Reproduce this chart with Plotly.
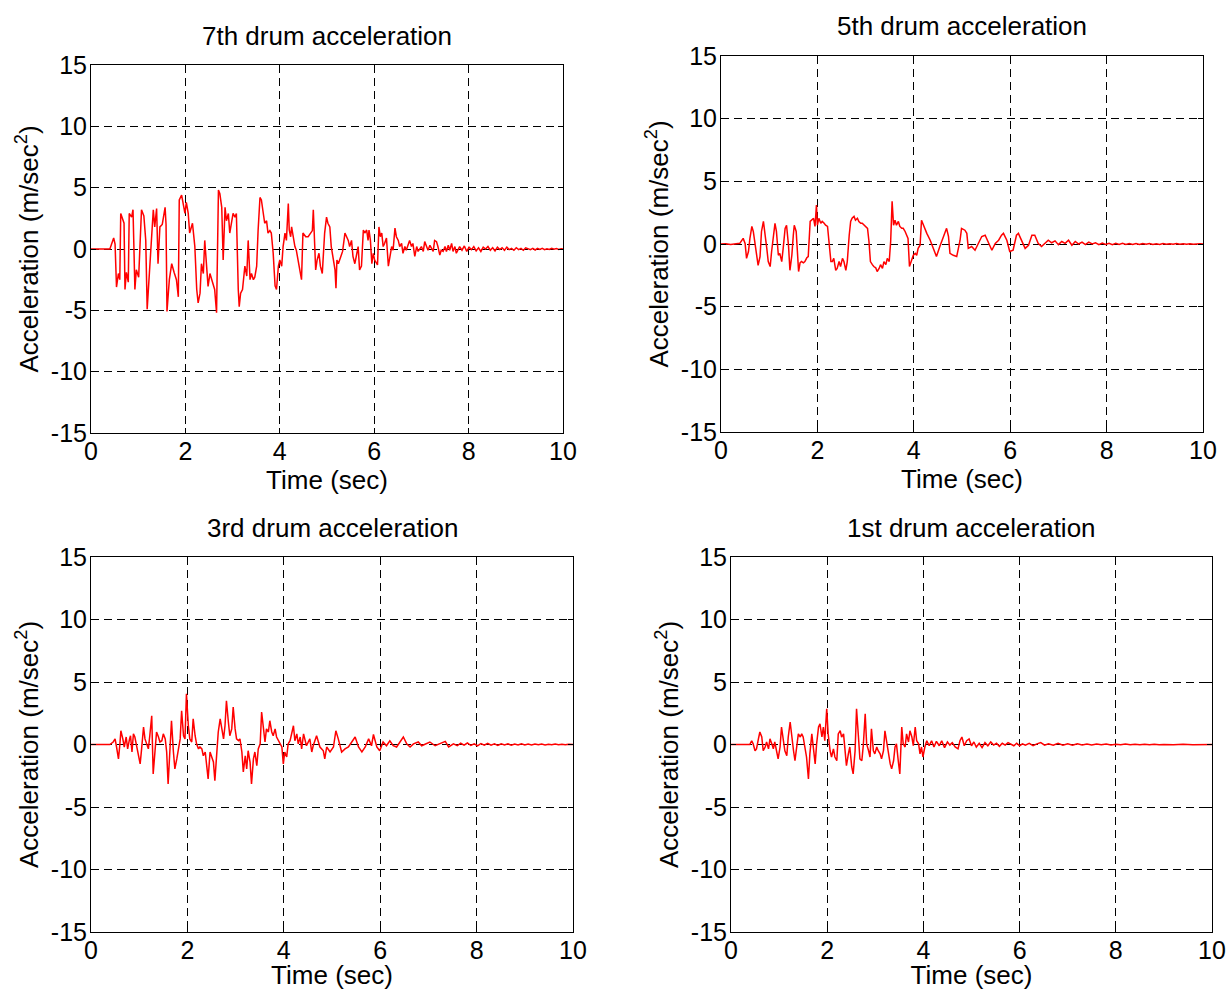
import plotly.graph_objects as go

# (time, acceleration) samples
DRUM7 = [
    (0.0, 0.0), (0.1, 0.02), (0.2, -0.02), (0.3, 0.01), (0.40, 0.0), (0.48, 0.9), (0.51, 0.4),
    (0.54, -3.1), (0.58, -2.0), (0.61, -2.5), (0.63, 2.9), (0.67, 2.4), (0.70, 2.1), (0.72, -3.3),
    (0.75, -1.9), (0.79, -2.7), (0.81, 2.9), (0.86, 2.6), (0.89, 3.2), (0.93, -3.3), (0.96, -1.7),
    (1.01, -2.3), (1.07, 3.2), (1.12, 2.7), (1.16, 0.7), (1.19, -4.9), (1.23, -2.5), (1.28, 1.0),
    (1.32, 3.2), (1.35, 1.8), (1.39, 3.3), (1.42, -1.2), (1.46, 1.8), (1.51, 2.0), (1.57, 3.4),
    (1.59, 2.0), (1.61, -5.1), (1.66, -2.5), (1.71, -1.2), (1.76, -1.9), (1.81, -2.5), (1.85, -3.9),
    (1.87, 4.0), (1.92, 4.4), (1.95, 3.7), (1.99, 2.9), (2.02, 3.8), (2.06, 2.9), (2.09, 1.3),
    (2.15, 2.1), (2.20, 0.2), (2.24, -3.3), (2.27, -4.4), (2.31, -3.6), (2.34, -1.2), (2.38, -2.0),
    (2.41, 0.7), (2.45, -1.7), (2.48, -3.05), (2.52, -2.0), (2.57, -2.6), (2.62, -3.3), (2.66, -5.2),
    (2.70, 4.8), (2.73, 4.5), (2.77, 3.4), (2.80, -0.9), (2.84, 3.4), (2.87, 2.3), (2.91, 2.9),
    (2.94, 1.3), (2.98, 2.1), (3.01, 2.9), (3.05, 2.6), (3.08, 2.9), (3.12, -3.3), (3.14, -4.7),
    (3.17, -3.6), (3.21, -3.3), (3.26, -1.4), (3.30, -2.2), (3.33, 0.7), (3.37, -2.5), (3.40, -2.0),
    (3.44, -2.5), (3.47, -2.3), (3.51, -1.4), (3.54, 1.5), (3.58, 4.2), (3.61, 4.0), (3.65, 2.9),
    (3.68, 2.1), (3.72, 2.3), (3.75, 1.3), (3.79, 1.5), (3.82, 1.3), (3.86, -0.35), (3.90, -3.0),
    (3.93, -3.3), (3.97, -1.4), (4.00, -0.9), (4.04, -1.4), (4.07, 0.2), (4.11, 1.3), (4.14, 0.7),
    (4.18, 3.7), (4.20, 1.55), (4.23, 1.0), (4.25, 1.8), (4.28, 1.0), (4.32, 0.2), (4.35, -0.1),
    (4.39, -0.9), (4.42, -1.7), (4.46, -2.5), (4.49, 1.3), (4.55, 1.0), (4.60, 1.0), (4.65, 1.3),
    (4.69, 1.5), (4.71, 3.2), (4.73, 1.3), (4.76, -1.7), (4.79, -0.9), (4.83, -0.35), (4.86, -1.4),
    (4.90, -2.0), (4.95, 1.3), (4.99, 2.6), (5.02, 2.1), (5.06, 1.8), (5.09, 0.2), (5.13, -0.6),
    (5.17, -1.7), (5.19, -3.2), (5.21, -0.9), (5.24, -1.2), (5.29, -0.6), (5.33, -0.2), (5.38, 1.3),
    (5.41, 1.0), (5.45, 0.7), (5.48, 0.2), (5.52, 0.7), (5.55, -0.6), (5.59, -1.2), (5.62, -0.6),
    (5.66, 0.2), (5.69, -1.7), (5.73, -1.4), (5.77, 1.55), (5.80, 1.3), (5.84, 1.55), (5.87, 0.7),
    (5.89, 1.55), (5.92, 0.7), (5.95, -1.2), (5.98, -0.35), (6.01, -0.9), (6.07, -1.3), (6.10, 1.8),
    (6.13, 1.0), (6.16, 1.3), (6.19, 0.2), (6.22, 0.45), (6.26, 0.9), (6.30, -1.4), (6.33, -0.6),
    (6.37, 0.2), (6.40, -0.1), (6.44, 1.7), (6.47, 1.0), (6.51, 0.7), (6.54, 0.2), (6.58, 0.45),
    (6.61, -0.35), (6.65, 0.2), (6.68, -0.1), (6.72, 0.45), (6.75, 0.7), (6.79, 0.2), (6.82, 0.45),
    (6.86, -0.6), (6.90, 0.2), (6.93, -0.2), (6.97, 0.05), (7.00, 0.2), (7.04, -0.2), (7.07, 0.6),
    (7.11, 0.2), (7.14, -0.1), (7.18, 0.3), (7.21, 0.05), (7.25, -0.2), (7.28, 0.7), (7.32, 0.6),
    (7.35, 0.2), (7.39, -0.5), (7.42, -0.1), (7.46, -0.2), (7.50, 0.2), (7.53, -0.2), (7.57, 0.3),
    (7.60, -0.1), (7.64, 0.45), (7.67, -0.2), (7.71, 0.2), (7.74, -0.35), (7.81, 0.2), (7.86, -0.1),
    (7.91, 0.25), (7.96, -0.2), (8.01, 0.15), (8.06, -0.05), (8.11, 0.2), (8.16, -0.15), (8.21, 0.1),
    (8.26, -0.2), (8.31, 0.15), (8.36, 0.0), (8.41, 0.2), (8.46, -0.1), (8.51, 0.1), (8.56, -0.15),
    (8.61, 0.15), (8.66, -0.05), (8.71, 0.1), (8.76, -0.1), (8.81, 0.15), (8.86, -0.05), (8.91, 0.05),
    (8.96, -0.1), (9.01, 0.1), (9.06, -0.05), (9.11, 0.05), (9.16, -0.1), (9.21, 0.1), (9.26, 0.0),
    (9.31, -0.05), (9.36, 0.05), (9.41, -0.08), (9.46, 0.05), (9.51, -0.03), (9.56, 0.05),
    (9.61, -0.05), (9.66, 0.02), (9.71, -0.03), (9.76, 0.06), (9.81, -0.02), (9.86, 0.04),
    (9.91, -0.03), (9.96, 0.02), (10.0, 0.0),
]

DRUM5 = [
    (0.0, 0.0), (0.1, 0.02), (0.2, -0.03), (0.3, 0.02), (0.39, 0.05), (0.46, 0.45), (0.50, 0.05),
    (0.53, -1.15), (0.57, -0.6), (0.60, 0.45), (0.64, 1.4), (0.67, 1.0), (0.71, -0.1), (0.74, -0.9),
    (0.77, -1.7), (0.81, -1.0), (0.84, 1.0), (0.88, 1.8), (0.91, 1.0), (0.95, -0.35), (0.98, -1.4),
    (1.02, -1.8), (1.05, -0.6), (1.09, 1.0), (1.12, 1.65), (1.15, 1.0), (1.19, -0.9), (1.22, -0.75),
    (1.26, -1.4), (1.29, -0.35), (1.33, 1.25), (1.36, 1.5), (1.40, -0.1), (1.43, -2.1), (1.47, -0.9),
    (1.50, 0.7), (1.52, 1.5), (1.56, 1.0), (1.58, -0.1), (1.61, -2.2), (1.64, -1.5), (1.67, -1.4),
    (1.71, -1.5), (1.74, -1.4), (1.78, -1.1), (1.81, -1.0), (1.85, 1.8), (1.88, 1.9), (1.92, 2.05),
    (1.95, 1.4), (1.98, 3.1), (2.00, 1.5), (2.03, 2.05), (2.07, 1.65), (2.10, 1.8), (2.14, 1.65),
    (2.17, 1.5), (2.21, 1.4), (2.24, 0.2), (2.28, -1.4), (2.31, -1.4), (2.34, -1.15), (2.38, -2.1),
    (2.41, -1.95), (2.45, -1.4), (2.48, -1.8), (2.52, -1.15), (2.55, -1.4), (2.59, -2.1), (2.62, -1.4),
    (2.66, 0.7), (2.69, 1.8), (2.72, 2.05), (2.76, 2.2), (2.79, 1.9), (2.83, 2.05), (2.86, 1.8),
    (2.90, 1.65), (2.93, 1.65), (2.97, 1.5), (3.00, 1.4), (3.04, 1.25), (3.07, 0.2), (3.10, -1.4),
    (3.14, -1.65), (3.17, -1.8), (3.21, -1.9), (3.24, -2.2), (3.28, -1.95), (3.31, -1.65),
    (3.35, -1.95), (3.38, -1.4), (3.42, -1.65), (3.45, -1.15), (3.49, -1.4), (3.52, 0.2), (3.55, 3.4),
    (3.58, 1.5), (3.61, 1.9), (3.64, 1.5), (3.68, 1.8), (3.71, 1.4), (3.75, 1.25), (3.78, 1.25),
    (3.82, 1.0), (3.85, 0.7), (3.88, 0.45), (3.91, -1.8), (3.94, -1.5), (3.99, -0.9), (4.03, -0.75),
    (4.06, -0.9), (4.09, -0.35), (4.13, -0.1), (4.16, 1.9), (4.21, 1.4), (4.27, 0.85), (4.34, 0.3),
    (4.41, -0.5), (4.47, -1.0), (4.54, -0.2), (4.61, 0.6), (4.68, 1.25), (4.72, 0.6), (4.75, -0.75),
    (4.82, -0.9), (4.89, -1.0), (4.96, 0.3), (4.99, 1.25), (5.06, 1.1), (5.10, 0.85), (5.13, -0.35),
    (5.20, -0.2), (5.27, -0.5), (5.34, 0.05), (5.41, 0.6), (5.48, 0.7), (5.55, 0.05), (5.62, -0.5),
    (5.69, 0.05), (5.76, 0.3), (5.82, 0.7), (5.86, 0.85), (5.93, 0.3), (5.99, -0.6), (6.06, -0.5),
    (6.13, 0.7), (6.17, 0.85), (6.24, 0.3), (6.31, -0.35), (6.38, -0.1), (6.45, 0.7), (6.51, 0.7),
    (6.58, 0.05), (6.65, -0.2), (6.72, 0.05), (6.79, 0.3), (6.86, 0.1), (6.93, 0.25), (7.0, -0.05),
    (7.07, 0.2), (7.14, 0.05), (7.21, 0.3), (7.28, -0.1), (7.35, 0.2), (7.42, 0.0), (7.49, 0.15),
    (7.56, -0.05), (7.63, 0.15), (7.7, 0.0), (7.77, 0.1), (7.84, -0.05), (7.91, 0.08), (7.98, -0.03),
    (8.05, 0.06), (8.12, -0.05), (8.19, 0.05), (8.26, -0.03), (8.33, 0.05), (8.4, -0.04), (8.47, 0.04),
    (8.54, -0.03), (8.61, 0.03), (8.68, -0.04), (8.75, 0.03), (8.82, -0.02), (8.89, 0.04),
    (8.96, -0.03), (9.03, 0.02), (9.1, -0.03), (9.17, 0.03), (9.24, -0.02), (9.31, 0.02),
    (9.38, -0.02), (9.45, 0.03), (9.52, -0.02), (9.59, 0.02), (9.66, -0.01), (9.73, 0.02),
    (9.8, -0.02), (9.87, 0.01), (9.94, 0.02), (10.0, 0.0),
]

DRUM3 = [
    (0.0, 0.0), (0.1, 0.0), (0.2, 0.02), (0.3, -0.02), (0.39, 0.0), (0.46, 0.2), (0.50, 0.45),
    (0.53, -0.2), (0.57, -1.15), (0.60, 0.05), (0.62, 1.1), (0.66, 0.45), (0.69, -0.2), (0.73, 0.6),
    (0.76, -0.35), (0.80, 0.45), (0.82, 0.7), (0.85, -0.6), (0.88, 0.85), (0.91, 0.6), (0.95, -0.2),
    (0.98, -0.6), (1.02, -1.55), (1.05, -0.35), (1.09, 1.4), (1.12, 0.45), (1.15, 0.05), (1.19, -0.35),
    (1.22, 0.7), (1.26, 2.3), (1.29, -2.35), (1.33, -0.1), (1.36, 1.0), (1.40, 0.6), (1.43, 0.2),
    (1.47, 0.3), (1.50, 0.85), (1.54, 0.45), (1.57, -0.6), (1.60, -3.15), (1.64, -0.6), (1.67, 1.9),
    (1.71, -0.6), (1.74, -1.95), (1.78, -1.15), (1.81, -0.5), (1.85, 0.45), (1.88, 2.7), (1.92, 0.7),
    (1.95, 0.45), (1.98, 4.05), (2.02, 1.5), (2.05, 0.45), (2.09, 0.2), (2.12, 2.05), (2.16, 0.7),
    (2.19, 0.05), (2.23, -0.35), (2.26, -0.2), (2.30, -0.35), (2.33, -0.9), (2.37, -0.6),
    (2.40, -1.55), (2.43, -2.75), (2.47, -0.6), (2.50, -1.0), (2.54, -1.4), (2.57, -2.9), (2.61, -0.6),
    (2.64, 1.0), (2.68, 2.05), (2.71, 1.25), (2.75, 0.45), (2.78, 1.5), (2.81, 3.5), (2.85, 1.8),
    (2.88, 0.7), (2.92, 1.25), (2.95, 3.0), (2.99, 1.25), (3.02, 0.45), (3.06, 0.3), (3.09, 0.45),
    (3.13, -0.6), (3.16, -2.2), (3.20, -0.9), (3.23, -1.95), (3.26, -0.5), (3.30, -1.4), (3.33, -3.15),
    (3.37, -1.15), (3.40, -0.6), (3.44, -1.7), (3.47, -0.35), (3.51, 0.05), (3.54, 2.6), (3.58, 1.0),
    (3.61, 0.2), (3.64, 1.25), (3.68, 1.0), (3.71, 1.9), (3.75, 1.0), (3.78, 0.7), (3.82, 1.25),
    (3.85, 0.6), (3.89, 0.3), (3.92, 0.2), (3.96, -0.2), (3.99, -1.55), (4.02, -0.6), (4.06, -1.0),
    (4.09, 0.05), (4.13, 0.3), (4.20, 1.5), (4.23, 0.3), (4.27, 0.85), (4.30, 0.05), (4.34, 0.6),
    (4.37, -0.35), (4.41, 0.85), (4.47, -0.1), (4.54, 0.45), (4.58, -0.6), (4.61, -0.1), (4.68, 0.7),
    (4.75, -0.2), (4.82, -0.5), (4.85, -1.15), (4.89, -0.2), (4.96, -0.6), (5.03, -0.2), (5.08, 1.1),
    (5.13, 0.45), (5.20, -0.6), (5.27, -0.35), (5.34, -0.2), (5.41, 0.2), (5.48, 0.6), (5.55, -0.2),
    (5.62, -0.6), (5.69, -0.2), (5.76, 0.45), (5.82, -0.1), (5.86, 0.8), (5.93, -0.2), (5.99, -0.5),
    (6.06, 0.2), (6.13, -0.1), (6.20, 0.3), (6.27, -0.1), (6.34, -0.2), (6.45, 0.45), (6.48, 0.6),
    (6.55, 0.05), (6.62, -0.2), (6.69, 0.05), (6.79, 0.2), (6.86, -0.1), (6.93, 0.05), (7.03, 0.2),
    (7.14, -0.1), (7.24, 0.05), (7.35, 0.25), (7.42, -0.2), (7.52, 0.05), (7.6, -0.1), (7.67, 0.1),
    (7.74, -0.05), (7.81, 0.12), (7.88, -0.08), (7.95, 0.05), (8.02, -0.1), (8.09, 0.08), (8.16, -0.05),
    (8.23, 0.1), (8.3, -0.05), (8.37, 0.05), (8.44, -0.08), (8.51, 0.06), (8.58, -0.03), (8.65, 0.05),
    (8.72, -0.05), (8.79, 0.04), (8.86, -0.03), (8.93, 0.05), (9.0, -0.04), (9.07, 0.03), (9.14, -0.03),
    (9.21, 0.04), (9.28, -0.02), (9.35, 0.03), (9.42, -0.03), (9.49, 0.02), (9.56, -0.02), (9.63, 0.03),
    (9.7, -0.02), (9.77, 0.02), (9.84, -0.02), (9.91, 0.02), (10.0, 0.0),
]

DRUM1 = [
    (0.0, 0.0), (0.1, 0.0), (0.2, 0.01), (0.3, -0.01), (0.39, 0.0), (0.43, 0.3), (0.46, 0.05),
    (0.50, -0.5), (0.53, -0.35), (0.57, 0.45), (0.60, 1.0), (0.64, 0.6), (0.67, -0.5), (0.71, -0.2),
    (0.74, 0.2), (0.78, -0.35), (0.81, 0.45), (0.85, 0.05), (0.88, -0.35), (0.91, 0.2), (0.95, -0.75),
    (0.98, -1.15), (1.02, -0.2), (1.05, 1.4), (1.09, 0.3), (1.12, -0.5), (1.16, -0.9), (1.19, 0.6),
    (1.23, 1.8), (1.26, 0.6), (1.30, -0.5), (1.33, -1.3), (1.37, -0.2), (1.40, 0.85), (1.44, 0.6),
    (1.47, 0.85), (1.50, 0.6), (1.54, -0.2), (1.57, -1.0), (1.61, -2.75), (1.64, -0.75), (1.68, 0.85),
    (1.71, -0.2), (1.75, -1.55), (1.78, 0.05), (1.82, 1.4), (1.85, 1.65), (1.89, 0.6), (1.92, 1.4),
    (1.95, 0.3), (1.99, 2.85), (2.02, 0.85), (2.06, -0.5), (2.09, -1.0), (2.13, -0.35), (2.16, -1.0),
    (2.20, -1.3), (2.23, 0.85), (2.27, 1.1), (2.30, 0.6), (2.34, 0.85), (2.37, -0.5), (2.40, -1.7),
    (2.44, -0.75), (2.47, -0.2), (2.51, -1.8), (2.54, -2.35), (2.58, -0.5), (2.61, 2.85), (2.65, 0.6),
    (2.68, -1.15), (2.72, -1.3), (2.75, -0.1), (2.79, 2.45), (2.82, 0.05), (2.86, -0.5), (2.89, -1.0),
    (2.92, 1.25), (2.96, -0.5), (2.99, -0.75), (3.03, -0.2), (3.06, -0.5), (3.10, -0.75), (3.13, -1.15),
    (3.17, -0.5), (3.20, 1.1), (3.24, 0.05), (3.27, -0.5), (3.31, -1.55), (3.34, -1.95), (3.38, -1.3),
    (3.41, -0.2), (3.44, 0.05), (3.48, -1.4), (3.51, -2.35), (3.55, 1.4), (3.58, 0.05), (3.62, -0.2),
    (3.65, 0.85), (3.69, 0.2), (3.72, 1.1), (3.76, 0.6), (3.79, -0.1), (3.83, 1.4), (3.86, 0.3),
    (3.90, 0.05), (3.93, -0.75), (3.96, -0.2), (3.99, -1.0), (4.03, -0.2), (4.07, 0.3), (4.12, -0.1),
    (4.17, 0.3), (4.22, -0.2), (4.27, 0.25), (4.33, -0.1), (4.38, 0.3), (4.44, -0.25), (4.5, 0.2),
    (4.55, -0.05), (4.6, 0.15), (4.66, -0.2), (4.72, -0.35), (4.76, 0.3), (4.8, 0.6), (4.85, -0.1),
    (4.9, 0.3), (4.95, 0.45), (5.0, -0.1), (5.05, 0.2), (5.1, -0.2), (5.16, 0.1), (5.22, -0.25),
    (5.28, 0.15), (5.34, -0.1), (5.4, 0.2), (5.46, -0.05), (5.52, 0.1), (5.58, -0.15), (5.64, 0.1),
    (5.7, -0.05), (5.76, 0.15), (5.82, 0.0), (5.88, -0.1), (5.94, 0.1), (6.0, -0.1), (6.06, 0.05),
    (6.12, -0.05), (6.2, 0.1), (6.28, -0.1), (6.36, 0.05), (6.44, 0.15), (6.52, -0.05), (6.6, 0.05),
    (6.7, -0.05), (6.8, 0.1), (6.9, -0.05), (7.0, 0.05), (7.1, -0.05), (7.2, 0.06), (7.3, -0.03),
    (7.4, 0.04), (7.5, -0.04), (7.6, 0.03), (7.7, -0.02), (7.8, 0.04), (7.9, -0.03), (8.0, 0.02),
    (8.1, -0.02), (8.2, 0.03), (8.3, -0.02), (8.4, 0.02), (8.5, -0.02), (8.6, 0.02), (8.7, -0.01),
    (8.8, 0.02), (8.9, -0.02), (9.0, 0.01), (9.2, -0.01), (9.4, 0.02), (9.6, -0.01), (9.8, 0.01),
    (10.0, 0.0),
]

TITLES = ["7th drum acceleration", "5th drum acceleration", "3rd drum acceleration", "1st drum acceleration"]
X_TICKS = [0, 2, 4, 6, 8, 10]
Y_TICKS = [-15, -10, -5, 0, 5, 10, 15]
Y_TICK_TEXT = ["-15", "-10", "-5", "0", "5", "10", "15"]

W, H = 1228, 990
FONT = "Liberation Sans, Arial, sans-serif"
FS = 25
TFS = 26

# plot boxes in pixels: (left, right, top, bottom) and title y
panels = [
    (DRUM7, (91, 563, 65, 433), 36),
    (DRUM5, (721, 1203, 56, 432), 26),
    (DRUM3, (91, 573, 557, 932), 528),
    (DRUM1, (731, 1212, 557, 932), 528),
]

fig = go.Figure()
layout = {}
annotations = []
for i, (data, (l, r, t, b), ty) in enumerate(panels):
    n = "" if i == 0 else str(i + 1)
    tx = [p[0] for p in data]
    ay = [p[1] for p in data]
    fig.add_trace(go.Scatter(x=tx, y=ay, mode="lines", line=dict(color="#ff0000", width=1.5),
                             xaxis="x" + n, yaxis="y" + n, showlegend=False))
    common = dict(showline=True, linecolor="black", linewidth=1, mirror="ticks", ticks="inside",
                  ticklen=5, tickcolor="black", showgrid=True, gridcolor="black", gridwidth=1,
                  griddash="8px,5px", zeroline=False, automargin=False,
                  tickfont=dict(family=FONT, size=FS, color="black"))
    layout["xaxis" + n] = dict(common, domain=[l / W, r / W], anchor="y" + n, range=[0, 10],
                               tickvals=X_TICKS, ticklabelstandoff=-4,
                               title=dict(text="Time (sec)", standoff=0,
                                          font=dict(family=FONT, size=TFS, color="black")))
    layout["yaxis" + n] = dict(common, domain=[1 - b / H, 1 - t / H], anchor="x" + n, range=[-15, 15],
                               tickvals=Y_TICKS, ticktext=Y_TICK_TEXT, ticklabelstandoff=-2,
                               title=dict(text="Acceleration (m/sec<sup>2</sup>)", standoff=4,
                                          font=dict(family=FONT, size=TFS, color="black")))
    annotations.append(dict(text=TITLES[i], x=(l + r) / 2 / W, y=1 - ty / H, xref="paper", yref="paper",
                            xanchor="center", yanchor="middle", showarrow=False,
                            font=dict(family=FONT, size=TFS, color="black")))

fig.update_layout(**layout)
fig.update_layout(width=W, height=H, margin=dict(l=0, r=0, t=0, b=0), plot_bgcolor="white",
                  paper_bgcolor="white", annotations=annotations)
# page body has a default 8px margin; drop it so the figure sits at the window origin
fig.write_html("out.html", config={"displayModeBar": False},
               post_script="document.body.style.margin='0';")
